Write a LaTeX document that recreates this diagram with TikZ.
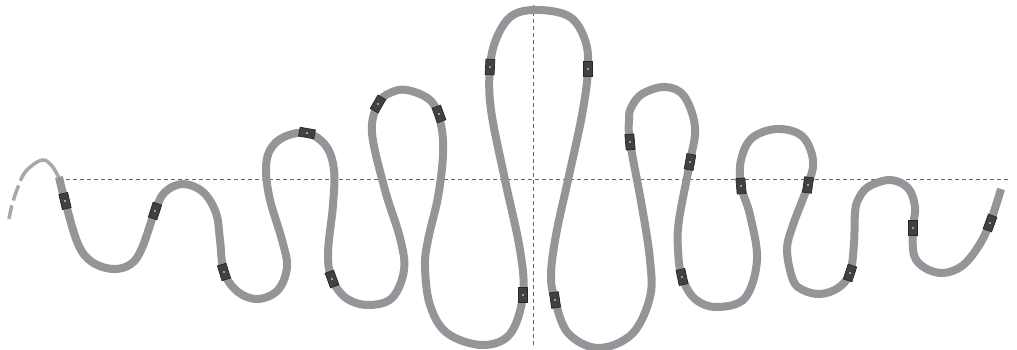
\documentclass[tikz,border=0pt]{standalone}
\usepackage{xcolor}
\usepackage{tikz}
\definecolor{wiregray}{HTML}{939598}
\definecolor{fadegray}{HTML}{A7A9AC}
\definecolor{clipgray}{HTML}{414143}
\tikzset{
  axisline/.style={draw=black!60, line width=0.7pt, dash pattern=on 4pt off 3pt},
  wireline/.style={draw=wiregray, line width=8pt},
  fadeline/.style={draw=fadegray, line width=3.5pt},
  clipbox/.style={draw=black!85, line width=0.7pt, fill=clipgray, minimum width=9pt, minimum height=15.5pt, inner sep=0pt, outer sep=0pt}
}
\begin{document}
\begin{tikzpicture}[x=1pt,y=-1pt]
\useasboundingbox (0,0) rectangle (1017,350);
\draw[axisline] (59,179.5) -- (1010,179.5);
\draw[axisline] (533.5,5) -- (533.5,348);

% faded start of the wire
\draw[fadeline, dash pattern=on 14pt off 5pt on 16pt off 5pt on 60pt off 0pt] plot[smooth, tension=0.6] coordinates {(9,219) (12,205) (18,187) (26,171) (42,160) (52,166) (59,178)};

% the wire
\draw[wireline] plot[smooth, tension=0.6] coordinates {
  (59,177) (65,201) (78,244) (92,262) (113,269) (131,264) (142,248) (155,211) (165,192) (183,184) (203,192) (216,213) (220,240) (224,272)
  (238,292) (258,299) (278,290) (287,267) (282,240) (270,200) (266,170) (270,150) (284,137) (307,133) (326,146) (334,170) (333,205) (328,253) (332,279)
  (346,298) (368,305) (392,298) (404,270) (400,238) (385,190) (372,133) (378,104) (390,93) (407,90) (431,101) (441,125) (443,155) (438,197) (428,240) (425,267) (430,305)
  (447,333) (482,345) (510,334) (523,295) (520,250) (505,180) (491,110) (490,67) (497,37) (513,15) (540,10) (570,17) (585,40) (588,69) (582,115) (568,180) (556,235) (551,275) (555,300)
  (568,333) (598,348) (632,334) (650,297) (650,260) (642,207) (630,142) (629,120) (631,108) (642,94) (665,87) (684,96) (695,127) (690,162) (679,220) (678,250) (682,277)
  (695,299) (717,307) (745,298) (757,260) (750,215) (741,186) (741,160) (752,138) (777,129) (802,136) (813,160) (808,185) (793,225) (787,250) (793,280) (803,290) (820,294) (838,288) (850,273)
  (854,243) (855,213) (858,200) (868,187) (890,180) (908,188) (915,207) (913,228) (914,255) (925,268) (943,273) (962,266) (978,247) (990,223) (1001,189)};

% clips along the wire
\foreach \cx/\cy/\ca [count=\i] in {65/201/13, 155/211/-18, 224/272/17, 307/133/80, 332/279/20, 378/104/-30, 439/114/20,
    490/67/-3, 523/295/0, 588/69/0, 555/300/8, 630/142/5, 690/162/-10, 682/277/12, 741/186/5, 808/185/-8, 850/273/-18, 913/228/0, 990/223/-20} {
  \node[clipbox, rotate=\ca] (clip\i) at (\cx,\cy) {};
  \fill[white] (clip\i.center) circle (0.9pt);
}
\end{tikzpicture}
\end{document}
